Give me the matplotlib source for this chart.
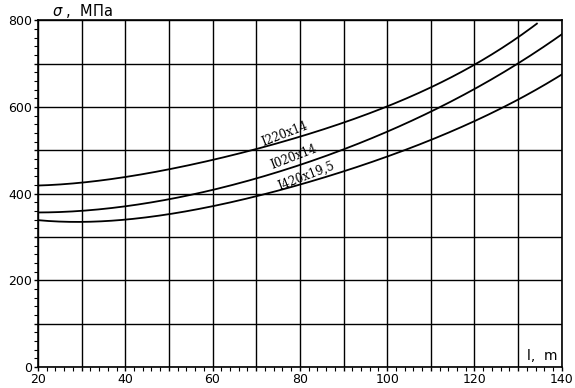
import numpy as np
import matplotlib
matplotlib.use("Agg")
import matplotlib.pyplot as plt
from matplotlib.ticker import MultipleLocator, FuncFormatter

# pipe length l, m
length = [20, 30, 40, 50, 60, 70, 80, 90, 100, 110, 120, 130, 134.3]
length_full = [20, 30, 40, 50, 60, 70, 80, 90, 100, 110, 120, 130, 140]

# stress sigma, MPa
sigma_1220 = [419, 425, 437, 457, 480, 501, 531, 562, 604, 643, 700, 757, 794]
sigma_1020 = [357, 359, 370, 389, 412, 432, 462, 501, 547, 593, 638, 698, 769]
sigma_1420 = [339, 334, 341, 352, 371, 394, 421, 451, 485, 524, 568, 616, 675]

labels = ["I220x14", "I020x14", "I420x19,5"]
label_pos = [(76.5, 537), (78.5, 484), (81.5, 441)]

fig = plt.figure(figsize=(5.75, 3.88), dpi=100)
ax = fig.add_axes([0.066, 0.054, 0.911, 0.894])


def smooth(x, y):
    xs = np.linspace(x[0], x[-1], 200)
    c = np.polyfit(x, y, 4)
    return xs, np.polyval(c, xs)


for xv, yv in [(length, sigma_1220), (length_full, sigma_1020), (length_full, sigma_1420)]:
    xs, ys = smooth(xv, yv)
    ax.plot(xs, ys, color="black", linewidth=1.3)

for txt, (tx, ty) in zip(labels, label_pos):
    ax.text(tx, ty, txt, rotation=21, ha="center", va="center",
            fontsize=8.5, family="DejaVu Serif")

ax.set_xlim(20, 140)
ax.set_ylim(0, 800)

ax.xaxis.set_major_locator(MultipleLocator(10))
ax.xaxis.set_minor_locator(MultipleLocator(2))
ax.yaxis.set_major_locator(MultipleLocator(100))
ax.yaxis.set_minor_locator(MultipleLocator(20))
ax.xaxis.set_major_formatter(FuncFormatter(lambda v, p: f"{v:.0f}" if v % 20 == 0 else ""))
ax.yaxis.set_major_formatter(FuncFormatter(lambda v, p: f"{v:.0f}" if v % 200 == 0 else ""))
ax.tick_params(which="major", length=3, width=1, labelsize=9, direction="out", pad=1)
ax.tick_params(which="minor", length=3, width=0.8, direction="out")
ax.grid(True, which="major", color="black", linewidth=1)

for s in ax.spines.values():
    s.set_linewidth(1.2)

fig.text(0.09, 0.972, r"$\sigma$ ,  МПа", fontsize=10.5, ha="left", va="center")
ax.text(135.5, 25, "l,  m", fontsize=10, ha="center", va="center")

plt.savefig("out.png", dpi=100)
